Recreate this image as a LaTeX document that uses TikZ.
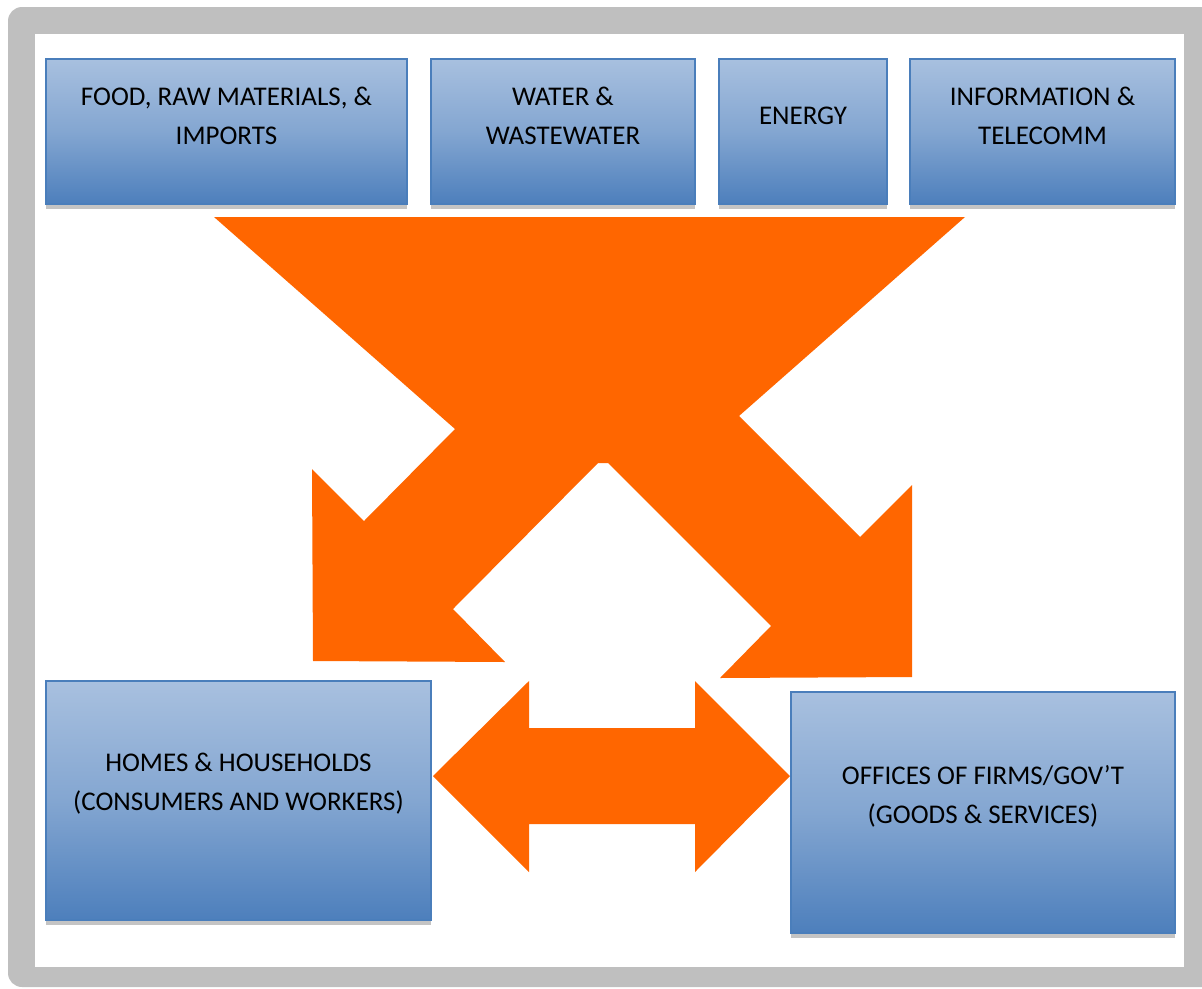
\documentclass[tikz,border=0pt]{standalone}
\usepackage{fontspec}
\setmainfont{Carlito}
\usetikzlibrary{calc,shadows}
\definecolor{framegray}{HTML}{BFBFBF}
\definecolor{flow}{HTML}{FF6600}
\definecolor{boxtop}{HTML}{A8C0DF}
\definecolor{boxbot}{HTML}{4D7FBC}
\definecolor{boxline}{HTML}{4A7EBB}
\definecolor{shadowgray}{HTML}{C4C4C4}
\tikzset{
  sector/.style={draw=boxline, line width=2, top color=boxtop, bottom color=boxbot,
    middle color=boxtop!60!boxbot,
    inner sep=0, anchor=north west,
    general shadow={fill=shadowgray, shadow yshift=-5pt}},
  lbl/.style={align=center, font=\fontsize{27}{39}\selectfont, inner sep=0}
}
\begin{document}
\begin{tikzpicture}[x=1pt,y=-1pt]
\useasboundingbox (0,0) rectangle (1202,988);
% frame
\fill[framegray, rounded corners=14] (8,7) rectangle (1230,987);
\fill[white] (35,34) rectangle (1184,967);
% top boxes
\node[sector, minimum width=361, minimum height=145] (food) at (45,58) {};
\node[sector, minimum width=264, minimum height=145] (water) at (430,58) {};
\node[sector, minimum width=168, minimum height=145] (energy) at (718,58) {};
\node[sector, minimum width=265, minimum height=145] (info) at (909,58) {};
% bottom boxes
\node[sector, minimum width=385, minimum height=239] (home) at (45,680) {};
\node[sector, minimum width=384, minimum height=241] (office) at (790,691) {};
% labels
\node[lbl] (tfood) at ($(food.north)+(0,58)$) {FOOD, RAW MATERIALS, \&\\IMPORTS};
\node[lbl] (twater) at ($(water.north)+(0,58)$) {WATER \&\\WASTEWATER};
\node[lbl] (tenergy) at ($(energy.north)+(0,58)$) {ENERGY};
\node[lbl] (tinfo) at ($(info.north)+(0,58)$) {INFORMATION \&\\TELECOMM};
\node[lbl] (thome) at ($(home.north)+(0,104)$) {HOMES \& HOUSEHOLDS\\(CONSUMERS AND WORKERS)};
\node[lbl] (toffice) at ($(office.north)+(0,105)$) {OFFICES OF FIRMS/GOV’T\\(GOODS \& SERVICES)};
% funnel flow
\fill[flow] (214,217) -- (455,429) -- (364,521) -- (312,469) -- (313,661)
  -- (505,662) -- (453,609) -- (598,463) -- (608,463) -- (771,626)
  -- (720,678) -- (912,677) -- (912,485) -- (860,537) -- (739,416)
  -- (965,217) -- cycle;
% exchange double arrow
\coordinate (mid) at (0,776);
\coordinate (L) at ($(home.east |- mid)+(1,0)$);
\coordinate (R) at (office.west |- mid);
\fill[flow] (L) -- ($(L)+(96,-95)$) -- ($(L)+(96,-48)$) -- ($(R)+(-95,-48)$)
  -- ($(R)+(-95,-95)$) -- (R) -- ($(R)+(-95,96)$) -- ($(R)+(-95,48)$)
  -- ($(L)+(96,48)$) -- ($(L)+(96,96)$) -- cycle;
\end{tikzpicture}
\end{document}
